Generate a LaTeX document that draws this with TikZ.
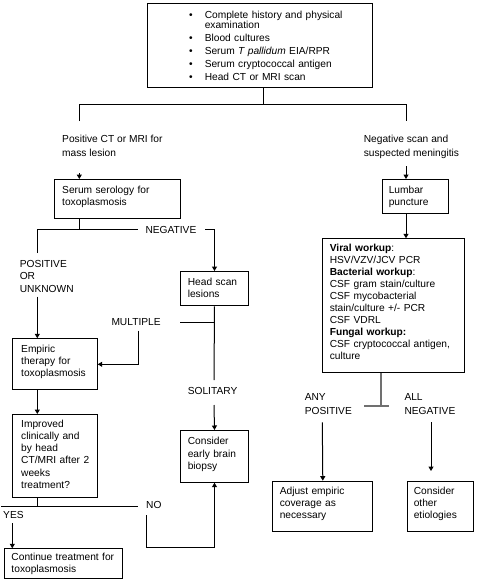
\documentclass[tikz,border=0pt]{standalone}
\usepackage{fontspec}
\setmainfont{Liberation Sans}
\usepackage{tikz}
\usetikzlibrary{arrows.meta}
\definecolor{teegray}{RGB}{112,112,112}
\setlength{\parindent}{0pt}
\newcommand{\padb}[1]{\rule[-#1]{0pt}{#1}}

\begin{document}
\begin{tikzpicture}[x=1pt,y=-1pt,line width=1pt,>={Triangle[length=4.5pt,width=5pt]},
    every node/.style={font=\fontsize{10.2}{12.2}\selectfont},
    box/.style={draw,anchor=north west,align=left,inner ysep=0pt},
    lbl/.style={anchor=north west,align=left,inner sep=0pt}]
    \useasboundingbox (0,0) rectangle (482,582);
    % boxes
    \node[box,minimum width=225.3pt,minimum height=84pt,inner xsep=28pt,text width=169.3pt] (top) at (147,3.3)
        {\hspace*{13.5pt}\textbullet\hspace*{12.2pt}Complete history and physical\\[-1.6pt]
         \hspace*{29.3pt}examination\\[0.8pt]
         \hspace*{13.5pt}\textbullet\hspace*{12.2pt}Blood cultures\\[0.8pt]
         \hspace*{13.5pt}\textbullet\hspace*{12.2pt}Serum \textit{T pallidum} EIA/RPR\\[0.8pt]
         \hspace*{13.5pt}\textbullet\hspace*{12.2pt}Serum cryptococcal antigen\\[0.8pt]
         \hspace*{13.5pt}\textbullet\hspace*{12.2pt}Head CT or MRI scan};
    \node[box,minimum width=126pt,minimum height=39.3pt,inner xsep=7.4pt,text width=111.2pt] (sero) at (54.3,179) {Serum serology for\\ toxoplasmosis\padb{6pt}};
    \node[box,minimum width=66.6pt,minimum height=34.3pt,inner xsep=6.6pt,text width=53.4pt] (lp) at (381.7,179) {Lumbar\\ puncture\padb{2pt}};
    \node[box,minimum width=67.4pt,minimum height=34.3pt,inner xsep=7pt,text width=53.4pt] (head) at (180.3,271) {Head scan\\ lesions\padb{2pt}};
    \node[box,minimum width=84.4pt,minimum height=51pt,inner xsep=8.4pt,text width=67.6pt] (emp) at (12.3,338.3) {Empiric\\ therapy for\\ toxoplasmosis\padb{7pt}};
    \node[box,minimum width=84.4pt,minimum height=83.3pt,inner xsep=8.4pt,text width=67.6pt] (impr) at (12.3,414)
        {Improved\\ clinically and\\ by head\\ \mbox{CT/MRI after 2}\\ weeks\\ treatment?\padb{4pt}};
    \node[box,minimum width=67.4pt,minimum height=51.7pt,inner xsep=7pt,text width=53.4pt] (biop) at (180.3,430) {Consider\\ early brain\\ biopsy\padb{6pt}};
    \node[box,minimum width=117.7pt,minimum height=30pt,inner xsep=7pt,text width=103.7pt] (cont) at (4,548.3) {\mbox{Continue treatment for}\\ toxoplasmosis};
    \node[box,minimum width=142pt,minimum height=134pt,inner xsep=7pt,text width=128pt] (work) at (322.3,238.3)
        {\textbf{Viral workup}:\\[-0.3pt] HSV/VZV/JCV PCR\\[-0.3pt] \textbf{Bacterial workup}:\\[-0.3pt]
         CSF gram stain/culture\\[-0.3pt] CSF mycobacterial\\[-0.3pt] stain/culture +/- PCR\\[-0.3pt] CSF VDRL\\[-0.3pt]
         \textbf{Fungal workup:}\\[-0.3pt] CSF cryptococcal antigen,\\[-0.3pt] culture\padb{8pt}};
    \node[box,minimum width=100pt,minimum height=50.6pt,inner xsep=7pt,text width=86pt] (adj) at (272.3,480.7) {Adjust empiric\\ coverage as\\ necessary\padb{8pt}};
    \node[box,minimum width=66.6pt,minimum height=50.6pt,inner xsep=6.6pt,text width=53.4pt] (other) at (406.7,480.7) {Consider\\ other\\ etiologies\padb{8pt}};
    % labels
    \node[lbl] (posct) at (61.7,134.3) {Positive CT or MRI for\\[2pt] mass lesion};
    \node[lbl] (negscan) at (363.3,134.3) {Negative scan and\\[2pt] suspected meningitis};
    \node[lbl] (neg) at (145,225.7) {NEGATIVE};
    \node[lbl] (posunk) at (19.3,259.6) {POSITIVE\\[0.5pt] OR\\[0.5pt] UNKNOWN};
    \node[lbl] (mult) at (111,318.4) {MULTIPLE};
    \node[lbl] (sol) at (187.3,387) {SOLITARY};
    \node[lbl] (yes) at (2.7,510.4) {YES};
    \node[lbl] (no) at (145.7,501) {NO};
    \node[lbl] (anypos) at (304.3,393) {ANY\\[2pt] POSITIVE};
    \node[lbl] (allneg) at (404,393) {ALL\\[2pt] NEGATIVE};
    % free ends
    \coordinate (split) at (263.3,104);
    \coordinate (aL) at (79.3,121);   \coordinate (aR) at (406,121);
    \coordinate (bL) at (79.3,173);   \coordinate (bR) at (406,166);
    \coordinate (cT) at (79.3,229.3); \coordinate (cL) at (37.3,253);
    \coordinate (cN) at (138.3,229.3);\coordinate (cM) at (205,229.3);
    \coordinate (dL) at (37.3,296.7);
    \coordinate (eS) at (214,380);    \coordinate (eM) at (180,322.3);
    \coordinate (eN) at (138.3,330.7);\coordinate (fS) at (214,405);
    \coordinate (gT) at (37.3,506.3); \coordinate (gL) at (1,506.3);
    \coordinate (gR) at (138.3,506.3);
    \coordinate (hY) at (12.3,523.3); \coordinate (hN) at (146.7,515);
    \coordinate (hB) at (146.7,547.7);
    \coordinate (tT) at (381,406);    \coordinate (tL) at (364,406);
    \coordinate (tR) at (389,406);
    \coordinate (iA) at (322.3,422.3);\coordinate (iB) at (431,422.3);
    \coordinate (iC) at (431,471);
    % connectors
    \draw (split |- top.south) -- (split);
    \draw (aL) -- (aL |- split) -- (aR |- split) -- (aR);
    \draw[->] (bL) -- (bL |- sero.north);
    \draw[->] (bR) -- (bR |- lp.north);
    \draw (cT |- sero.south) -- (cT);
    \draw (cL) |- (cN);
    \draw[->] (cM) -| (head.north);
    \draw[->] (dL) -- (dL |- emp.north);
    \draw (head.south) -- (eS);
    \draw (eM) -- (eM -| eS);
    \draw[->] (eN) |- (emp.east);
    \draw[->] (fS) -- (biop.north);
    \draw[->] (dL |- emp.south) -- (dL |- impr.north);
    \draw (dL |- impr.south) -- (gT);
    \draw (gL) -- (gR);
    \draw[->] (hY) -- (hY |- cont.north);
    \draw[->] (hN) -- (hB) -| (biop.south);
    \draw[->] (bR |- lp.south) -- (bR |- work.north);
    \draw[teegray,line width=1.8pt] (tT |- work.south) -- (tT) (tL) -- (tR);
    \draw[->] (iA) -- (adj.north);
    \draw[->] (iB) -- (iC);
\end{tikzpicture}
\end{document}
